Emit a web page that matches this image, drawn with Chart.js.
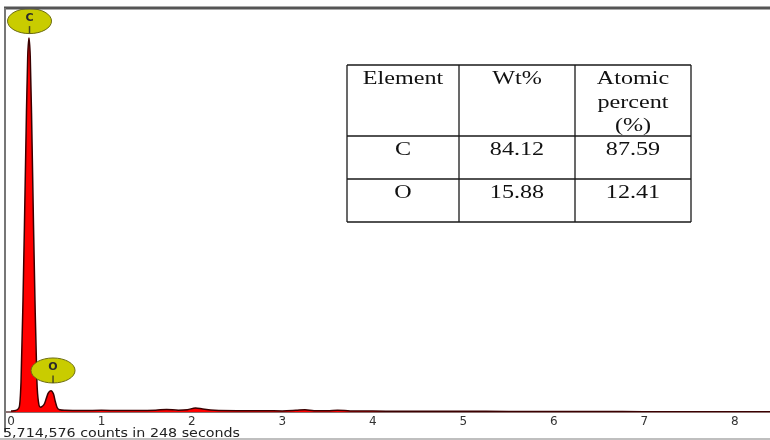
<!DOCTYPE html>
<html>
<head>
<meta charset="utf-8">
<script src="https://cdn.jsdelivr.net/npm/chart.js@4.4.1/dist/chart.umd.min.js"></script>
<style>
  body { margin: 0; background: #fff; }
  canvas { display: block; }
</style>
</head>
<body>
<canvas id="myChart" width="770" height="440"></canvas>
<script>
// spectrum (keV, counts scaled so C peak = 100)
var energy = [0.00, 0.05, 0.09, 0.111, 0.133, 0.149, 0.171, 0.185, 0.199, 0.213, 0.227, 0.249, 0.265, 0.287, 0.305,
  0.325, 0.345, 0.37, 0.39, 0.41, 0.442, 0.47, 0.49, 0.51, 0.54, 0.6, 0.8, 1.0, 1.2, 1.4, 1.6, 1.72, 1.85, 1.95,
  2.04, 2.12, 2.25, 2.5, 2.8, 3.0, 3.15, 3.25, 3.35, 3.5, 3.61, 3.75, 4.0, 4.5, 5.0, 5.5, 6.0, 6.5, 7.0, 7.5, 8.0, 8.39];
var counts = [0.3, 0.4, 1.2, 8, 30, 50, 80, 95, 100, 95, 80, 50, 30, 8, 2.5,
  1.3, 1.5, 2.2, 3.6, 5.0, 5.7, 4.8, 2.8, 1.2, 0.6, 0.45, 0.4, 0.45, 0.4, 0.4, 0.5, 0.7, 0.5, 0.6,
  1.1, 0.8, 0.45, 0.35, 0.35, 0.3, 0.45, 0.6, 0.35, 0.35, 0.5, 0.3, 0.25, 0.2, 0.2, 0.15, 0.15, 0.15, 0.1, 0.1, 0.1, 0.1];

// peak markers
var markerLabels = ['C', 'O'];
var markerEnergy = [0.205, 0.465];
var markerLevel = [104.5, 11.1];

// quantification table
var tableHeader = [['Element'], ['Wt%'], ['Atomic', 'percent', '(%)']];
var elements = ['C', 'O'];
var wtPct = ['84.12', '15.88'];
var atomicPct = ['87.59', '12.41'];

var countsText = '5,714,576 counts in 248 seconds';

var points = energy.map(function (e, i) { return { x: e, y: counts[i] }; });

function stretchText(ctx, txt, x, y, sx) {
    ctx.save();
    ctx.translate(x, y);
    ctx.scale(sx, 1);
    ctx.fillText(txt, 0, 0);
    ctx.restore();
}

var decor = {
    id: 'decor',
    afterDatasetsDraw: function (chart) {
        var ctx = chart.ctx, xs = chart.scales.x, ys = chart.scales.y;
        // peak markers
        markerLabels.forEach(function (lab, i) {
            var cx = xs.getPixelForValue(markerEnergy[i]);
            var cy = ys.getPixelForValue(markerLevel[i]);
            ctx.save();
            ctx.beginPath();
            ctx.ellipse(cx, cy, 22, 12.5, 0, 0, Math.PI * 2);
            ctx.fillStyle = '#c9cc00';
            ctx.fill();
            ctx.lineWidth = 1;
            ctx.strokeStyle = '#6b6b10';
            ctx.stroke();
            ctx.beginPath();
            ctx.moveTo(cx, cy + 5);
            ctx.lineTo(cx, cy + 12.5);
            ctx.lineWidth = 1.5;
            ctx.strokeStyle = '#4a4a20';
            ctx.stroke();
            ctx.fillStyle = '#2a2a2a';
            ctx.font = 'bold 11px "DejaVu Sans"';
            ctx.textAlign = 'center';
            ctx.textBaseline = 'middle';
            ctx.fillText(lab, cx, cy - 3);
            ctx.restore();
        });
    },
    afterDraw: function (chart) {
        var ctx = chart.ctx, a = chart.chartArea;
        ctx.save();
        // frame
        ctx.strokeStyle = '#555';
        ctx.lineWidth = 3;
        ctx.beginPath();
        ctx.moveTo(a.left - 2, a.top);
        ctx.lineTo(chart.width, a.top);
        ctx.stroke();
        ctx.strokeStyle = '#777';
        ctx.lineWidth = 2;
        ctx.beginPath();
        ctx.moveTo(a.left - 1, a.top);
        ctx.lineTo(a.left - 1, 432);
        ctx.stroke();
        ctx.strokeStyle = '#aaa';
        ctx.lineWidth = 1.5;
        ctx.beginPath();
        ctx.moveTo(0, 439);
        ctx.lineTo(chart.width, 439);
        ctx.stroke();

        // counts text
        ctx.fillStyle = '#222';
        ctx.font = '12px "DejaVu Sans"';
        ctx.textAlign = 'left';
        ctx.textBaseline = 'alphabetic';
        var w = ctx.measureText(countsText).width;
        stretchText(ctx, countsText, 3, 437, 237 / w);

        // table
        var xe = [347, 459, 575, 691], ye = [65, 136, 179, 222];
        ctx.strokeStyle = '#1a1a1a';
        ctx.lineWidth = 1.3;
        ctx.beginPath();
        xe.forEach(function (x) { ctx.moveTo(x, ye[0]); ctx.lineTo(x, ye[3]); });
        ye.forEach(function (y) { ctx.moveTo(xe[0], y); ctx.lineTo(xe[3], y); });
        ctx.stroke();
        ctx.fillStyle = '#111';
        ctx.font = '19px "Liberation Serif"';
        ctx.textBaseline = 'alphabetic';
        var sx = 1.27;
        function cell(txt, col, y) {
            var cx = (xe[col] + xe[col + 1]) / 2;
            var tw = ctx.measureText(txt).width * sx;
            stretchText(ctx, txt, cx - tw / 2, y, sx);
        }
        tableHeader.forEach(function (lines, c) {
            lines.forEach(function (t, k) { cell(t, c, 84 + k * 23.5); });
        });
        elements.forEach(function (el, r) {
            var y = 155 + r * 43;
            cell(el, 0, y);
            cell(wtPct[r], 1, y);
            cell(atomicPct[r], 2, y);
        });
        ctx.restore();
    }
};

var ctx = document.getElementById('myChart').getContext('2d');
var myChart = new Chart(ctx, {
    type: 'line',
    data: {
        datasets: [{
            label: 'Spectrum',
            data: points,
            backgroundColor: '#ff0000',
            borderColor: '#3a0000',
            borderWidth: 1.5,
            fill: 'origin',
            pointRadius: 0,
            cubicInterpolationMode: 'monotone'
        }]
    },
    options: {
        responsive: false,
        animation: false,
        devicePixelRatio: 1,
        layout: { padding: { left: 6, top: 8, right: 0, bottom: 0 } },
        plugins: { legend: { display: false }, tooltip: { enabled: false } },
        scales: {
            x: {
                type: 'linear',
                min: -0.055,
                max: 8.39,
                grid: { display: false, drawTicks: false },
                border: { display: true, color: '#8c7070', width: 2 },
                ticks: {
                    stepSize: 1,
                    includeBounds: false,
                    autoSkip: false,
                    maxRotation: 0,
                    padding: 3,
                    color: '#333',
                    font: { family: 'DejaVu Sans', size: 12 }
                },
                afterFit: function (s) { s.height = 28; }
            },
            y: { display: false, min: 0, max: 108 }
        }
    },
    plugins: [decor]
});
</script>
</body>
</html>
